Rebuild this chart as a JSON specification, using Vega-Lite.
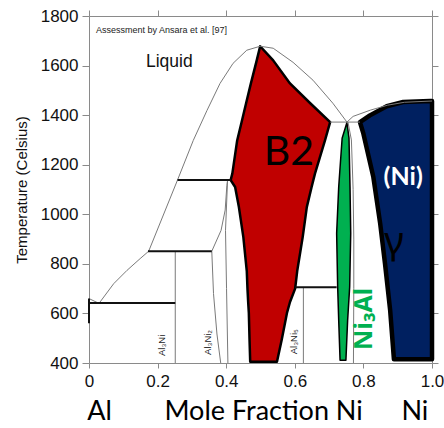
{
  "$schema": "https://vega.github.io/schema/vega-lite/v6.json",
  "width": 343,
  "height": 347,
  "autosize": "none",
  "padding": {"left": 89, "top": 16, "right": 12, "bottom": 65},
  "background": "white",
  "config": {
    "view": {"stroke": null},
    "axis": {"grid": false, "domainColor": "#8a8a8a", "tickColor": "#8a8a8a", "labelColor": "#111", "labelFont": "Liberation Sans", "labelFontSize": 17, "titleFont": "Liberation Sans", "titleFontWeight": "normal", "titleColor": "#111"}
  },
  "datasets": {
    "regions": [
      {"shape": "B2", "T": 405, "xl": 0.470, "xr": 0.548},
      {"shape": "B2", "T": 495, "xl": 0.468, "xr": 0.562},
      {"shape": "B2", "T": 601, "xl": 0.466, "xr": 0.577},
      {"shape": "B2", "T": 646, "xl": 0.464, "xr": 0.586},
      {"shape": "B2", "T": 700, "xl": 0.462, "xr": 0.601},
      {"shape": "B2", "T": 771, "xl": 0.460, "xr": 0.607},
      {"shape": "B2", "T": 908, "xl": 0.450, "xr": 0.623},
      {"shape": "B2", "T": 1029, "xl": 0.437, "xr": 0.635},
      {"shape": "B2", "T": 1110, "xl": 0.426, "xr": 0.649},
      {"shape": "B2", "T": 1138, "xl": 0.413, "xr": 0.654},
      {"shape": "B2", "T": 1165, "xl": 0.418, "xr": 0.659},
      {"shape": "B2", "T": 1298, "xl": 0.432, "xr": 0.688},
      {"shape": "B2", "T": 1372, "xl": 0.445, "xr": 0.703},
      {"shape": "B2", "T": 1448, "xl": 0.458, "xr": 0.645},
      {"shape": "B2", "T": 1528, "xl": 0.472, "xr": 0.586},
      {"shape": "B2", "T": 1621, "xl": 0.489, "xr": 0.537},
      {"shape": "B2", "T": 1678, "xl": 0.499, "xr": 0.499},
      {"shape": "gamma", "T": 415, "xl": 0.889, "xr": 1.0},
      {"shape": "gamma", "T": 613, "xl": 0.878, "xr": 1.0},
      {"shape": "gamma", "T": 801, "xl": 0.863, "xr": 1.0},
      {"shape": "gamma", "T": 962, "xl": 0.849, "xr": 1.0},
      {"shape": "gamma", "T": 1150, "xl": 0.829, "xr": 1.0},
      {"shape": "gamma", "T": 1325, "xl": 0.800, "xr": 1.0},
      {"shape": "gamma", "T": 1372, "xl": 0.790, "xr": 1.0},
      {"shape": "gamma", "T": 1399, "xl": 0.819, "xr": 1.0},
      {"shape": "gamma", "T": 1436, "xl": 0.868, "xr": 1.0},
      {"shape": "gamma", "T": 1453, "xl": 0.916, "xr": 1.0},
      {"shape": "gamma", "T": 1457, "xl": 0.994, "xr": 1.0},
      {"shape": "gp", "T": 411, "xl": 0.732, "xr": 0.749},
      {"shape": "gp", "T": 572, "xl": 0.728, "xr": 0.754},
      {"shape": "gp", "T": 707, "xl": 0.725, "xr": 0.760},
      {"shape": "gp", "T": 923, "xl": 0.722, "xr": 0.763},
      {"shape": "gp", "T": 1110, "xl": 0.728, "xr": 0.761},
      {"shape": "gp", "T": 1307, "xl": 0.738, "xr": 0.758},
      {"shape": "gp", "T": 1370, "xl": 0.752, "xr": 0.752}
    ],
    "thin": [
      {"seg": "liqAl", "o": 1, "x": 0.0, "T": 660},
      {"seg": "liqAl", "o": 2, "x": 0.027, "T": 642},
      {"seg": "liq", "o": 1, "x": 0.030, "T": 642},
      {"seg": "liq", "o": 2, "x": 0.072, "T": 720},
      {"seg": "liq", "o": 3, "x": 0.111, "T": 774},
      {"seg": "liq", "o": 4, "x": 0.149, "T": 821},
      {"seg": "liq", "o": 5, "x": 0.174, "T": 851},
      {"seg": "liq", "o": 6, "x": 0.258, "T": 1138},
      {"seg": "liq", "o": 7, "x": 0.304, "T": 1298},
      {"seg": "liq", "o": 8, "x": 0.344, "T": 1419},
      {"seg": "liq", "o": 9, "x": 0.382, "T": 1528},
      {"seg": "liq", "o": 10, "x": 0.420, "T": 1609},
      {"seg": "liq", "o": 11, "x": 0.460, "T": 1662},
      {"seg": "liq", "o": 12, "x": 0.499, "T": 1678},
      {"seg": "liq", "o": 13, "x": 0.537, "T": 1670},
      {"seg": "liq", "o": 14, "x": 0.595, "T": 1613},
      {"seg": "liq", "o": 15, "x": 0.653, "T": 1541},
      {"seg": "liq", "o": 16, "x": 0.711, "T": 1448},
      {"seg": "liq", "o": 17, "x": 0.752, "T": 1372},
      {"seg": "liq", "o": 18, "x": 0.770, "T": 1395},
      {"seg": "liq", "o": 19, "x": 0.820, "T": 1420},
      {"seg": "liq", "o": 20, "x": 0.870, "T": 1440},
      {"seg": "liq", "o": 21, "x": 0.920, "T": 1452},
      {"seg": "liq", "o": 22, "x": 1.0, "T": 1457},
      {"seg": "Al3Ni", "o": 1, "x": 0.2515, "T": 400},
      {"seg": "Al3Ni", "o": 2, "x": 0.2515, "T": 851},
      {"seg": "a32L", "o": 1, "x": 0.384, "T": 400},
      {"seg": "a32L", "o": 2, "x": 0.373, "T": 517},
      {"seg": "a32L", "o": 3, "x": 0.363, "T": 680},
      {"seg": "a32L", "o": 4, "x": 0.358, "T": 851},
      {"seg": "a32L", "o": 5, "x": 0.385, "T": 935},
      {"seg": "a32L", "o": 6, "x": 0.397, "T": 1017},
      {"seg": "a32L", "o": 7, "x": 0.402, "T": 1117},
      {"seg": "a32L", "o": 8, "x": 0.404, "T": 1138},
      {"seg": "a32R", "o": 1, "x": 0.404, "T": 1138},
      {"seg": "a32R", "o": 2, "x": 0.398, "T": 935},
      {"seg": "a32R", "o": 3, "x": 0.401, "T": 700},
      {"seg": "a32R", "o": 4, "x": 0.405, "T": 400},
      {"seg": "Al3Ni5", "o": 1, "x": 0.625, "T": 400},
      {"seg": "Al3Ni5", "o": 2, "x": 0.625, "T": 706},
      {"seg": "gpR", "o": 1, "x": 0.755, "T": 1372},
      {"seg": "gpR", "o": 2, "x": 0.765, "T": 1300},
      {"seg": "gpR", "o": 3, "x": 0.770, "T": 1100},
      {"seg": "gpR", "o": 4, "x": 0.772, "T": 900},
      {"seg": "gpR", "o": 5, "x": 0.772, "T": 700},
      {"seg": "gpR", "o": 6, "x": 0.771, "T": 400},
      {"seg": "per", "o": 1, "x": 0.703, "T": 1372},
      {"seg": "per", "o": 2, "x": 0.790, "T": 1372}
    ],
    "thick": [
      {"seg": "e640", "o": 1, "x": 0.0, "T": 642},
      {"seg": "e640", "o": 2, "x": 0.2515, "T": 642},
      {"seg": "e851", "o": 1, "x": 0.172, "T": 851},
      {"seg": "e851", "o": 2, "x": 0.358, "T": 851},
      {"seg": "e1138", "o": 1, "x": 0.258, "T": 1138},
      {"seg": "e1138", "o": 2, "x": 0.413, "T": 1138},
      {"seg": "e700", "o": 1, "x": 0.601, "T": 706},
      {"seg": "e700", "o": 2, "x": 0.722, "T": 706},
      {"seg": "al", "o": 1, "x": 0.0, "T": 660},
      {"seg": "al", "o": 2, "x": 0.0, "T": 560}
    ]
  },
  "resolve": {"axis": {"x": "independent", "y": "independent"}},
  "layer": [
    {
      "data": {"name": "regions"},
      "transform": [{"filter": "datum.shape === 'B2'"}],
      "mark": {"type": "area", "orient": "horizontal", "fill": "#c00000", "stroke": "#000", "strokeWidth": 2.5, "strokeJoin": "round"},
      "encoding": {
        "y": {"field": "T", "type": "quantitative", "scale": {"domain": [400, 1800], "nice": false, "zero": false},
              "axis": {"orient": "left", "values": [400, 600, 800, 1000, 1200, 1400, 1600, 1800], "format": "d", "tickSize": 7, "labelPadding": 4, "title": "Temperature (Celsius)", "titleFontSize": 15, "titlePadding": 11}},
        "x": {"field": "xl", "type": "quantitative", "scale": {"domain": [0, 1], "nice": false, "zero": false},
              "axis": {"orient": "bottom", "values": [0, 0.2, 0.4, 0.6, 0.8, 1], "labelExpr": "datum.value == 0 ? '0' : format(datum.value, '.1f')", "tickSize": 5, "labelPadding": 5, "title": null, "labelFlush": false}},
        "x2": {"field": "xr"}
      }
    },
    {
      "data": {"name": "regions"},
      "transform": [{"filter": "datum.shape === 'gamma'"}],
      "mark": {"type": "area", "orient": "horizontal", "fill": "#002060", "stroke": "#000", "strokeWidth": 4.5, "strokeJoin": "round"},
      "encoding": {
        "y": {"field": "T", "type": "quantitative", "scale": {"domain": [400, 1800], "nice": false, "zero": false},
              "axis": {"orient": "right", "values": [400, 600, 800, 1000, 1200, 1400, 1600, 1800], "tickSize": 6, "labels": false, "title": null}},
        "x": {"field": "xl", "type": "quantitative", "scale": {"domain": [0, 1], "nice": false, "zero": false},
              "axis": {"orient": "top", "values": [0, 0.2, 0.4, 0.6, 0.8, 1], "tickSize": 6, "labels": false, "title": null}},
        "x2": {"field": "xr"}
      }
    },
    {
      "data": {"name": "regions"},
      "transform": [{"filter": "datum.shape === 'gp'"}],
      "mark": {"type": "area", "orient": "horizontal", "fill": "#00b050", "stroke": "#000", "strokeWidth": 1.5, "strokeJoin": "round"},
      "encoding": {
        "y": {"field": "T", "type": "quantitative", "scale": {"domain": [400, 1800], "nice": false, "zero": false}, "axis": null},
        "x": {"field": "xl", "type": "quantitative", "scale": {"domain": [0, 1], "nice": false, "zero": false}, "axis": null},
        "x2": {"field": "xr"}
      }
    },
    {
      "data": {"name": "thin"},
      "mark": {"type": "line", "stroke": "#7a7a7a", "strokeWidth": 1},
      "encoding": {
        "x": {"field": "x", "type": "quantitative", "scale": {"domain": [0, 1], "nice": false, "zero": false}, "axis": null},
        "y": {"field": "T", "type": "quantitative", "scale": {"domain": [400, 1800], "nice": false, "zero": false}, "axis": null},
        "detail": {"field": "seg"},
        "order": {"field": "o"}
      }
    },
    {
      "data": {"name": "thick"},
      "mark": {"type": "line", "stroke": "#111", "strokeWidth": 2},
      "encoding": {
        "x": {"field": "x", "type": "quantitative", "scale": {"domain": [0, 1], "nice": false, "zero": false}, "axis": null},
        "y": {"field": "T", "type": "quantitative", "scale": {"domain": [400, 1800], "nice": false, "zero": false}, "axis": null},
        "detail": {"field": "seg"},
        "order": {"field": "o"}
      }
    },
    {
      "data": {"values": [{"x": 0.0204, "T": 1742, "label": "Assessment by Ansara et al. [97]"}]},
      "mark": {"type": "text", "align": "left", "baseline": "middle", "font": "Liberation Sans", "fontSize": 9, "color": "#222"},
      "encoding": {
        "x": {"field": "x", "type": "quantitative", "scale": {"domain": [0, 1], "nice": false, "zero": false}, "axis": null},
        "y": {"field": "T", "type": "quantitative", "scale": {"domain": [400, 1800], "nice": false, "zero": false}, "axis": null},
        "text": {"field": "label"}
      }
    },
    {
      "data": {"values": [{"x": 0.234, "T": 1615, "label": "Liquid"}]},
      "mark": {"type": "text", "align": "center", "baseline": "middle", "font": "Liberation Sans", "fontSize": 17.5, "color": "#111"},
      "encoding": {
        "x": {"field": "x", "type": "quantitative", "scale": {"domain": [0, 1], "nice": false, "zero": false}, "axis": null},
        "y": {"field": "T", "type": "quantitative", "scale": {"domain": [400, 1800], "nice": false, "zero": false}, "axis": null},
        "text": {"field": "label"}
      }
    },
    {
      "data": {"values": [{"x": 0.2135, "T": 471, "label": "Al₃Ni"}, {"x": 0.348, "T": 483, "label": "Al₃Ni₂"}, {"x": 0.598, "T": 486, "label": "Al₃Ni₅"}]},
      "mark": {"type": "text", "align": "center", "baseline": "middle", "angle": 270, "font": "Liberation Sans, DejaVu Sans", "fontSize": 9.5, "color": "#222"},
      "encoding": {
        "x": {"field": "x", "type": "quantitative", "scale": {"domain": [0, 1], "nice": false, "zero": false}, "axis": null},
        "y": {"field": "T", "type": "quantitative", "scale": {"domain": [400, 1800], "nice": false, "zero": false}, "axis": null},
        "text": {"field": "label"}
      }
    },
    {
      "data": {"values": [{"x": 0.583, "T": 1246, "label": "B2"}]},
      "mark": {"type": "text", "align": "center", "baseline": "middle", "font": "Lato", "fontSize": 41, "color": "#000"},
      "encoding": {
        "x": {"field": "x", "type": "quantitative", "scale": {"domain": [0, 1], "nice": false, "zero": false}, "axis": null},
        "y": {"field": "T", "type": "quantitative", "scale": {"domain": [400, 1800], "nice": false, "zero": false}, "axis": null},
        "text": {"field": "label"}
      }
    },
    {
      "data": {"values": [{"x": 0.916, "T": 1151, "label": "(Ni)"}]},
      "mark": {"type": "text", "align": "center", "baseline": "middle", "font": "Lato", "fontWeight": "bold", "fontSize": 25, "color": "#ffffff"},
      "encoding": {
        "x": {"field": "x", "type": "quantitative", "scale": {"domain": [0, 1], "nice": false, "zero": false}, "axis": null},
        "y": {"field": "T", "type": "quantitative", "scale": {"domain": [400, 1800], "nice": false, "zero": false}, "axis": null},
        "text": {"field": "label"}
      }
    },
    {
      "data": {"values": [{"x": 0.889, "T": 883, "label": "γ"}]},
      "mark": {"type": "text", "align": "center", "baseline": "middle", "font": "Noto Sans", "fontSize": 38, "color": "#000"},
      "encoding": {
        "x": {"field": "x", "type": "quantitative", "scale": {"domain": [0, 1], "nice": false, "zero": false}, "axis": null},
        "y": {"field": "T", "type": "quantitative", "scale": {"domain": [400, 1800], "nice": false, "zero": false}, "axis": null},
        "text": {"field": "label"}
      }
    },
    {
      "data": {"values": [{"x": 0.803, "T": 578, "label": "Ni₃Al"}]},
      "mark": {"type": "text", "align": "center", "baseline": "middle", "angle": 270, "font": "Noto Sans", "fontWeight": "bold", "fontSize": 25, "color": "#00b050"},
      "encoding": {
        "x": {"field": "x", "type": "quantitative", "scale": {"domain": [0, 1], "nice": false, "zero": false}, "axis": null},
        "y": {"field": "T", "type": "quantitative", "scale": {"domain": [400, 1800], "nice": false, "zero": false}, "axis": null},
        "text": {"field": "label"}
      }
    },
    {
      "data": {"values": [{"x": 0.031, "T": 203, "label": "Al"}, {"x": 0.509, "T": 203, "label": "Mole Fraction Ni"}, {"x": 0.95, "T": 203, "label": "Ni"}]},
      "mark": {"type": "text", "align": "center", "baseline": "middle", "font": "Lato", "fontSize": 27, "color": "#000"},
      "encoding": {
        "x": {"field": "x", "type": "quantitative", "scale": {"domain": [0, 1], "nice": false, "zero": false}, "axis": null},
        "y": {"field": "T", "type": "quantitative", "scale": {"domain": [400, 1800], "nice": false, "zero": false}, "axis": null},
        "text": {"field": "label"}
      }
    }
  ]
}
